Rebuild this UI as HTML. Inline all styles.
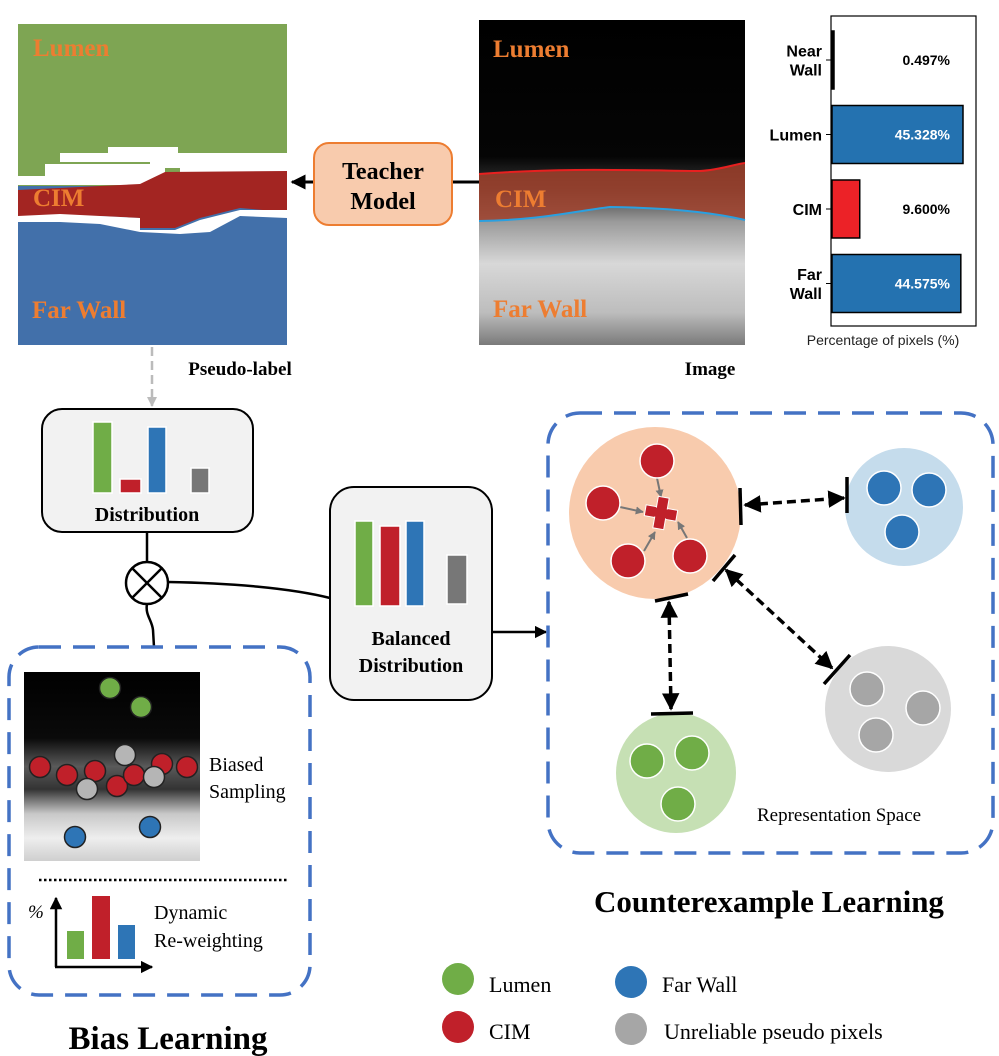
<!DOCTYPE html>
<html><head><meta charset="utf-8"><style>
html,body{margin:0;padding:0;background:#fff}
svg{display:block}
.serif{font-family:"Liberation Serif",serif}
.sans{font-family:"Liberation Sans",sans-serif}
</style></head><body>
<svg id="fig" width="999" height="1056" viewBox="0 0 999 1056" xmlns="http://www.w3.org/2000/svg">
<defs>
<linearGradient id="imgGrad" x1="0" y1="0" x2="0" y2="1">
<stop offset="0" stop-color="#000"/><stop offset="0.42" stop-color="#050505"/><stop offset="0.52" stop-color="#3a3a3a"/><stop offset="0.62" stop-color="#9a9a9a"/><stop offset="0.75" stop-color="#d8d8d8"/><stop offset="0.9" stop-color="#bdbdbd"/><stop offset="1" stop-color="#7a7a7a"/>
</linearGradient>
<linearGradient id="biasGrad" x1="0" y1="0" x2="0" y2="1">
<stop offset="0" stop-color="#000"/><stop offset="0.35" stop-color="#0a0a0a"/><stop offset="0.5" stop-color="#5a5a5a"/><stop offset="0.62" stop-color="#333"/><stop offset="0.75" stop-color="#c8c8c8"/><stop offset="0.88" stop-color="#eee"/><stop offset="1" stop-color="#cfcfcf"/>
</linearGradient>
<marker id="ah" viewBox="0 0 10 10" refX="9" refY="5" markerWidth="5" markerHeight="5" orient="auto-start-reverse"><path d="M0,0L10,5L0,10z" fill="#000"/></marker>
<marker id="ahg" viewBox="0 0 10 10" refX="9" refY="5" markerWidth="4" markerHeight="4" orient="auto"><path d="M0,0L10,5L0,10z" fill="#777"/></marker>
<marker id="ahl" viewBox="0 0 10 10" refX="9" refY="5" markerWidth="4" markerHeight="4" orient="auto"><path d="M0,0L10,5L0,10z" fill="#bbb"/></marker>
</defs>

<!-- Pseudo label -->
<g>
<rect x="18" y="24" width="269" height="321" fill="#4270aa"/>
<rect x="18" y="24" width="269" height="162" fill="#7ea553"/>
<g fill="#fff">
<rect x="60" y="153" width="227" height="9"/>
<rect x="108" y="147" width="70" height="6"/>
<rect x="45" y="164" width="120" height="12"/>
<rect x="18" y="176" width="150" height="9"/>
<rect x="150" y="162" width="137" height="6"/>
<rect x="180" y="168" width="107" height="4"/>
</g>
<path d="M18,190 L140,184 L165,172 L287,171 L287,212 L240,208 L200,218 L175,228 L140,228 L140,218 L100,216 L60,218 L18,216Z" fill="#a32522"/>
<path d="M18,216 L60,214 L100,216 L140,218 L140,230 L175,230 L200,220 L240,210 L287,210 L287,218 L240,216 L210,232 L180,234 L140,232 L100,224 L60,222 L18,222Z" fill="#fff"/>
<text x="33" y="56" class="serif" font-weight="bold" font-size="25" fill="#ed7d31">Lumen</text>
<text x="33" y="206" class="serif" font-weight="bold" font-size="25" fill="#ed7d31">CIM</text>
<text x="32" y="318" class="serif" font-weight="bold" font-size="25" fill="#ed7d31">Far Wall</text>
</g>
<text x="240" y="375" text-anchor="middle" class="serif" font-weight="bold" font-size="19">Pseudo-label</text>

<!-- Teacher model -->
<line x1="479" y1="182" x2="292" y2="182" stroke="#000" stroke-width="3" marker-end="url(#ah)"/>
<rect x="314" y="143" width="138" height="82" rx="15" fill="#f8cbad" stroke="#ed7d31" stroke-width="2"/>
<text x="383" y="179" text-anchor="middle" class="serif" font-weight="bold" font-size="24">Teacher</text>
<text x="383" y="209" text-anchor="middle" class="serif" font-weight="bold" font-size="24">Model</text>

<!-- Image -->
<g>
<rect x="479" y="20" width="266" height="325" fill="url(#imgGrad)"/>
<path d="M479,174 C560,168 620,170 700,171 C720,170 735,164 745,163 L745,220 C720,215 680,208 610,208 C570,212 540,220 479,221Z" fill="#a0412c" opacity="0.85"/>
<path d="M479,174 C560,168 620,170 700,171 C720,170 735,164 745,163" fill="none" stroke="#e82020" stroke-width="2"/>
<path d="M479,221 C540,220 570,212 610,207 C680,208 720,214 745,220" fill="none" stroke="#2aa0e0" stroke-width="2"/>
<text x="493" y="57" class="serif" font-weight="bold" font-size="25" fill="#ed7d31">Lumen</text>
<text x="495" y="207" class="serif" font-weight="bold" font-size="25" fill="#ed7d31">CIM</text>
<text x="493" y="317" class="serif" font-weight="bold" font-size="25" fill="#ed7d31">Far Wall</text>
</g>
<text x="710" y="375" text-anchor="middle" class="serif" font-weight="bold" font-size="19">Image</text>

<!-- Bar chart -->
<g id="chart">
<rect x="831" y="16" width="145" height="310" fill="none" stroke="#000" stroke-width="1.2"/>
</g>
<text x="883" y="345" text-anchor="middle" class="sans" font-size="14" fill="#222">Percentage of pixels (%)</text>

<!-- gray arrow -->
<line x1="152" y1="347" x2="152" y2="406" stroke="#bbb" stroke-width="2.5" stroke-dasharray="9,5" marker-end="url(#ahl)"/>

<!-- Distribution box -->
<rect x="42" y="409" width="211" height="123" rx="20" fill="#f2f2f2" stroke="#000" stroke-width="2"/>
<g stroke="#fff" stroke-width="1.5">
<rect x="93" y="422" width="19" height="71" fill="#70ad47"/>
<rect x="120" y="479" width="21" height="14" fill="#c0202a"/>
<rect x="148" y="427" width="18" height="66" fill="#2e75b6"/>
<rect x="191" y="468" width="18" height="25" fill="#777"/>
</g>
<text x="147" y="521" text-anchor="middle" class="serif" font-weight="bold" font-size="20">Distribution</text>

<line x1="147" y1="532" x2="147" y2="562" stroke="#000" stroke-width="2.5"/>
<g>
<circle cx="147" cy="583" r="21" fill="#fff" stroke="#000" stroke-width="2.5"/>
<line x1="132" y1="568" x2="162" y2="598" stroke="#000" stroke-width="2.5"/>
<line x1="162" y1="568" x2="132" y2="598" stroke="#000" stroke-width="2.5"/>
</g>
<path d="M147,604 C145,615 152,620 153,630 L154,647" fill="none" stroke="#000" stroke-width="2.5"/>
<path d="M168,582 C230,583 290,588 330,598" fill="none" stroke="#000" stroke-width="2.5"/>

<!-- Balanced distribution -->
<rect x="330" y="487" width="162" height="213" rx="24" fill="#f2f2f2" stroke="#000" stroke-width="2"/>
<g stroke="#fff" stroke-width="1.5">
<rect x="355" y="521" width="18" height="85" fill="#70ad47"/>
<rect x="380" y="526" width="20" height="80" fill="#c0202a"/>
<rect x="406" y="521" width="18" height="85" fill="#2e75b6"/>
<rect x="447" y="555" width="20" height="49" fill="#777"/>
</g>
<text x="411" y="645" text-anchor="middle" class="serif" font-weight="bold" font-size="20">Balanced</text>
<text x="411" y="672" text-anchor="middle" class="serif" font-weight="bold" font-size="20">Distribution</text>
<line x1="492" y1="632" x2="546" y2="632" stroke="#000" stroke-width="2.5" marker-end="url(#ah)"/>

<!-- Bias learning -->
<rect x="9" y="647" width="301" height="348" rx="30" fill="none" stroke="#4472c4" stroke-width="3.5" stroke-dasharray="22,12"/>
<rect x="24" y="672" width="176" height="189" fill="url(#biasGrad)"/>
<g id="biasdots" stroke="#222" stroke-width="1.5"></g>
<text x="209" y="771" class="serif" font-size="20">Biased</text>
<text x="209" y="798" class="serif" font-size="20">Sampling</text>
<line x1="39" y1="880" x2="287" y2="880" stroke="#000" stroke-width="2.5" stroke-dasharray="2.5,2.5"/>
<line x1="56" y1="967" x2="56" y2="898" stroke="#000" stroke-width="2.5" marker-end="url(#ah)"/>
<line x1="55" y1="967" x2="152" y2="967" stroke="#000" stroke-width="2.5" marker-end="url(#ah)"/>
<text x="28" y="918" class="serif" font-style="italic" font-size="19">%</text>
<rect x="67" y="931" width="17" height="28" fill="#70ad47"/>
<rect x="92" y="896" width="18" height="63" fill="#c0202a"/>
<rect x="118" y="925" width="17" height="34" fill="#2e75b6"/>
<text x="154" y="919" class="serif" font-size="20">Dynamic</text>
<text x="154" y="947" class="serif" font-size="20">Re-weighting</text>
<text x="168" y="1049" text-anchor="middle" class="serif" font-weight="bold" font-size="33">Bias Learning</text>

<!-- Counterexample learning -->
<rect x="548" y="413" width="445" height="440" rx="32" fill="none" stroke="#4472c4" stroke-width="3.5" stroke-dasharray="22,12"/>
<circle cx="655" cy="513" r="86" fill="#f8cbad"/>
<circle cx="904" cy="507" r="59" fill="#c5dcec"/>
<circle cx="888" cy="709" r="63" fill="#d9d9d9"/>
<circle cx="676" cy="773" r="60" fill="#c6e0b4"/>
<g stroke="#777" stroke-width="2">
<line x1="657" y1="478" x2="661" y2="497" marker-end="url(#ahg)"/>
<line x1="620" y1="507" x2="643" y2="512" marker-end="url(#ahg)"/>
<line x1="644" y1="551" x2="655" y2="532" marker-end="url(#ahg)"/>
<line x1="687" y1="538" x2="678" y2="522" marker-end="url(#ahg)"/>
</g>
<g stroke="#fff" stroke-width="1.5" id="clusterdots"></g>
<g transform="translate(661,513) rotate(10)">
<rect x="-16" y="-5.5" width="32" height="11" fill="#c0202a" stroke="#fff" stroke-width="1"/>
<rect x="-5.5" y="-16" width="11" height="32" fill="#c0202a" stroke="#fff" stroke-width="1"/>
<rect x="-15" y="-4.5" width="30" height="9" fill="#c0202a"/>
</g>
<g stroke="#000" stroke-width="3.5" fill="none">
<line x1="745" y1="505" x2="844" y2="498" stroke-dasharray="9,5" marker-start="url(#ah)" marker-end="url(#ah)"/>
<line x1="740" y1="488" x2="741" y2="525"/><line x1="847" y1="477" x2="847" y2="513"/>
<line x1="726" y1="570" x2="832" y2="668" stroke-dasharray="9,5" marker-start="url(#ah)" marker-end="url(#ah)"/>
<line x1="713" y1="581" x2="735" y2="555"/><line x1="824" y1="684" x2="850" y2="655"/>
<line x1="669" y1="602" x2="671" y2="709" stroke-dasharray="9,5" marker-start="url(#ah)" marker-end="url(#ah)"/>
<line x1="655" y1="601" x2="688" y2="594"/><line x1="651" y1="714" x2="693" y2="713"/>
</g>
<text x="757" y="821" class="serif" font-size="19">Representation Space</text>
<text x="769" y="912" text-anchor="middle" class="serif" font-weight="bold" font-size="31">Counterexample Learning</text>

<!-- Legend -->
<g>
<circle cx="458" cy="979" r="16" fill="#70ad47"/>
<text x="489" y="992" class="serif" font-size="22">Lumen</text>
<circle cx="631" cy="982" r="16" fill="#2e75b6"/>
<text x="662" y="992" class="serif" font-size="22">Far Wall</text>
<circle cx="458" cy="1027" r="16" fill="#c0202a"/>
<text x="489" y="1039" class="serif" font-size="22">CIM</text>
<circle cx="631" cy="1029" r="16" fill="#a6a6a6"/>
<text x="664" y="1039" class="serif" font-size="22">Unreliable pseudo pixels</text>
</g>
</svg>
<script>
const categories = ["Near\nWall", "Lumen", "CIM", "Far\nWall"];
const values = [0.497, 45.328, 9.600, 44.575];
const valueLabels = ["0.497%", "45.328%", "9.600%", "44.575%"];
const barColors = ["#000", "#2472b0", "#ec2227", "#2472b0"];

const NS = "http://www.w3.org/2000/svg";
const chart = document.getElementById("chart");
const x0 = 832, pxPerUnit = 2.89, yTop = 60, step = 74.5, barH = 58;
function xScale(v){ return x0 + v * pxPerUnit; }
function yScale(i){ return yTop + i * step; }
categories.forEach((c, i) => {
  const yc = yScale(i);
  const w = Math.max(xScale(values[i]) - x0, 2);
  const r = document.createElementNS(NS, "rect");
  r.setAttribute("x", x0);
  r.setAttribute("y", yc - barH/2);
  r.setAttribute("width", w);
  r.setAttribute("height", barH);
  r.setAttribute("fill", barColors[i]);
  r.setAttribute("stroke", "#000");
  r.setAttribute("stroke-width", "1.5");
  
  
  chart.appendChild(r);
  const tk = document.createElementNS(NS, "line");
  tk.setAttribute("x1", 826); tk.setAttribute("x2", 831);
  tk.setAttribute("y1", yc); tk.setAttribute("y2", yc);
  tk.setAttribute("stroke", "#000");
  chart.appendChild(tk);
  const lines = c.split("\n");
  lines.forEach((ln, j) => {
    const t = document.createElementNS(NS, "text");
    t.setAttribute("x", 822);
    t.setAttribute("y", yc + 6 + (j - (lines.length - 1)/2) * 19);
    t.setAttribute("text-anchor", "end");
    t.setAttribute("class", "sans");
    t.setAttribute("font-weight", "bold");
    t.setAttribute("font-size", "16");
    
    
    t.textContent = ln;
    chart.appendChild(t);
  });
  const vl = document.createElementNS(NS, "text");
  vl.setAttribute("x", 950);
  vl.setAttribute("y", yc + 5);
  vl.setAttribute("text-anchor", "end");
  vl.setAttribute("class", "sans");
  vl.setAttribute("font-weight", "bold");
  vl.setAttribute("font-size", "14");
  vl.setAttribute("fill", values[i] > 30 ? "#fff" : "#000");
  
  
  vl.textContent = valueLabels[i];
  chart.appendChild(vl);
});

function dot(parent, cx, cy, r, fill){
  const c = document.createElementNS(NS, "circle");
  c.setAttribute("cx", cx); c.setAttribute("cy", cy); c.setAttribute("r", r); c.setAttribute("fill", fill);
  
  
  parent.appendChild(c);
}
const G="#70ad47", R="#c0202a", B="#2e75b6", Y="#b5b5b5";
const bd = document.getElementById("biasdots");
[[110,688,G],[141,707,G],[125,755,Y],[40,767,R],[67,775,R],[95,771,R],[162,764,R],[187,767,R],[87,789,Y],[117,786,R],[134,775,R],[154,777,Y],[75,837,B],[150,827,B]].forEach(d=>dot(bd,d[0],d[1],10.5,d[2]));
const cd = document.getElementById("clusterdots");
[[657,461,R],[603,503,R],[628,561,R],[690,556,R],[884,488,B],[929,490,B],[902,532,B],[867,689,"#a6a6a6"],[923,708,"#a6a6a6"],[876,735,"#a6a6a6"],[647,761,G],[692,753,G],[678,804,G]].forEach(d=>dot(cd,d[0],d[1],17,d[2]));
</script>
</body></html>
